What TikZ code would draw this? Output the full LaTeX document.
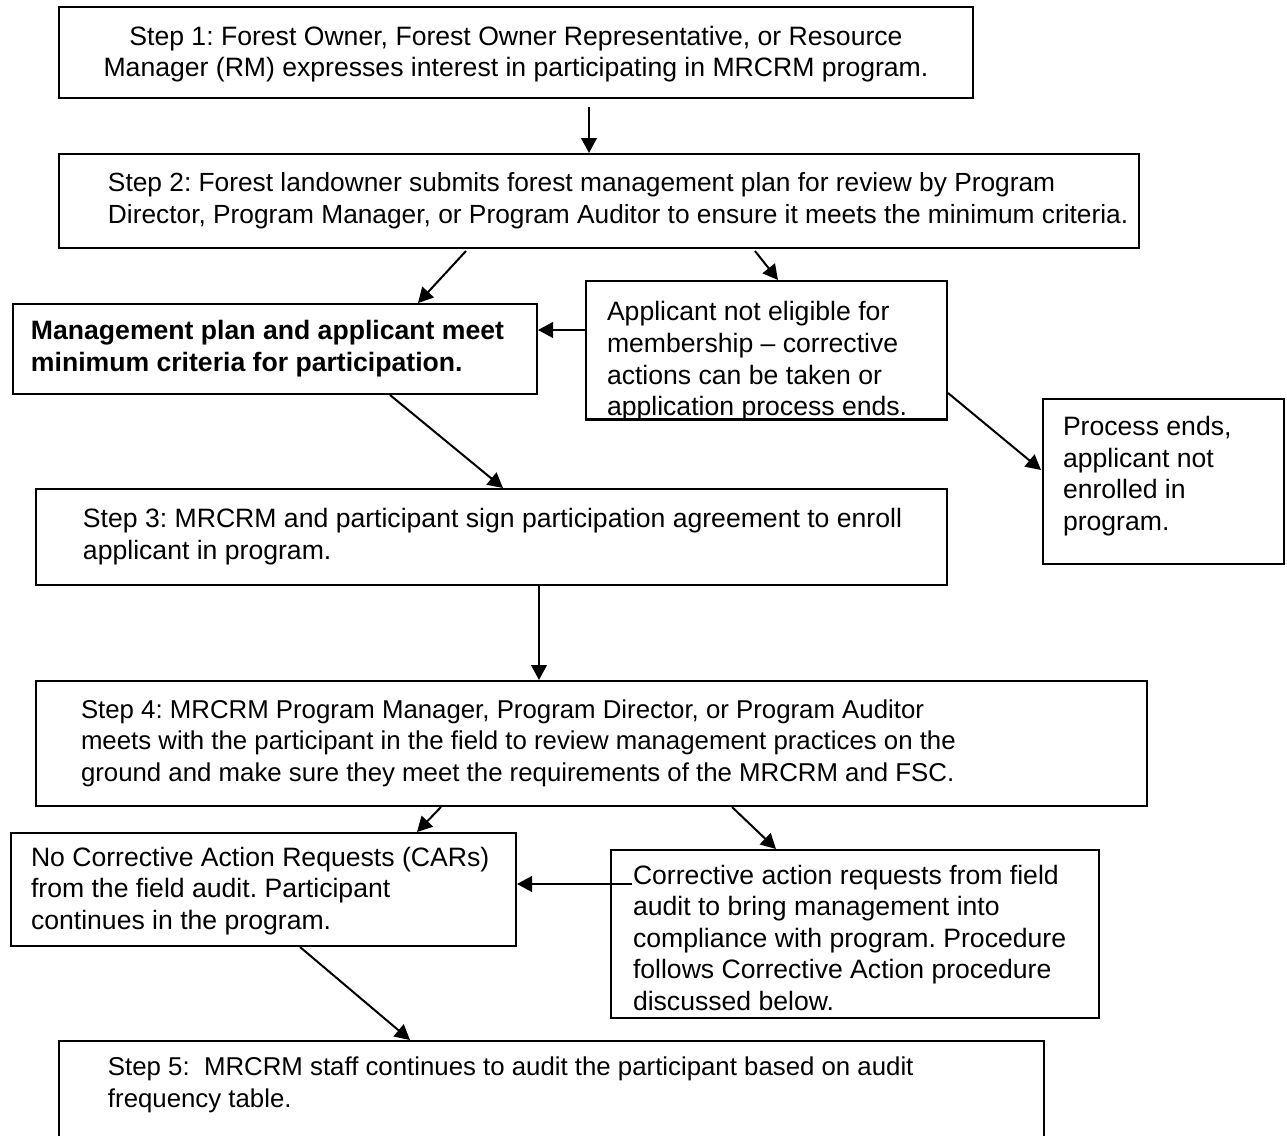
\documentclass[tikz,border=0pt]{standalone}
\usepackage{fontspec}
\setmainfont{Liberation Sans}
\usetikzlibrary{arrows.meta,calc}
\tikzset{
  boxnode/.style={draw, line width=1pt, inner sep=0pt, anchor=north west,
    font=\fontsize{13.3}{15.8}\selectfont\frenchspacing},
  narrowtext/.style={font=\fontsize{12.9}{15.8}\selectfont\frenchspacing},
  slimtext/.style={font=\fontsize{13.15}{15.8}\selectfont\frenchspacing},
  arr/.style={line width=1pt, -{Triangle[length=7.5pt,width=7.8pt]}}
}
% #1 box width, #2 left inset, #3 downward shift, #4 lines
\newcommand{\bxt}[4]{\raisebox{-#3}[\height][\depth]{\makebox[#1][l]{\hspace{#2}\begin{tabular}{@{}l@{}}#4\end{tabular}}}}
\newcommand{\bxc}[3]{\raisebox{-#2}[\height][\depth]{\makebox[#1][c]{\begin{tabular}{@{}c@{}}#3\end{tabular}}}}
\begin{document}
\begin{tikzpicture}[x=0.5pt,y=-0.5pt]
\useasboundingbox (0,0) rectangle (1287,1136);
\fill[white] (0,0) rectangle (1287,1136);
\clip (0,0) rectangle (1287,1136);

\node[boxnode, minimum height=45.5pt] (b1) at (58,6)
  {\bxc{457pt}{1pt}{Step 1: Forest Owner, Forest Owner Representative, or Resource\\Manager (RM) expresses interest in participating in MRCRM program.}};

\node[boxnode, slimtext, minimum height=47pt] (b2) at (58,153)
  {\bxt{540pt}{24.5pt}{0pt}{Step 2: Forest landowner submits forest management plan for review by Program\\Director, Program Manager, or Program Auditor to ensure it meets the minimum criteria.}};

\node[boxnode, minimum height=45pt] (mg) at (12,303)
  {\bxt{262pt}{9pt}{0pt}{\bfseries Management plan and applicant meet\\\bfseries minimum criteria for participation.}};

\begin{scope}
\clip (580,275) rectangle (952,418);
\node[boxnode, minimum height=69pt] (ap) at (585,280)
  {\bxt{180.5pt}{10.5pt}{6pt}{Applicant not eligible for\\membership -- corrective\\actions can be taken or\\application process ends.}};
\end{scope}
\draw[line width=1pt] (ap.south west) -- (ap.south east);

\node[boxnode, minimum height=82.5pt] (pe) at (1042,398)
  {\bxt{120.5pt}{10pt}{-2.5pt}{Process ends,\\applicant not\\enrolled in\\program.}};

\node[boxnode, minimum height=48pt] (b3) at (35,488)
  {\bxt{455.5pt}{23.5pt}{0pt}{Step 3: MRCRM and participant sign participation agreement to enroll\\applicant in program.}};

\node[boxnode, narrowtext, minimum height=62.5pt] (b4) at (35,680)
  {\bxt{555.5pt}{22.5pt}{0pt}{Step 4: MRCRM Program Manager, Program Director, or Program Auditor\\meets with the participant in the field to review management practices on the\\ground and make sure they meet the requirements of the MRCRM and FSC.}};

\node[boxnode, minimum height=56.5pt] (nc) at (10,832)
  {\bxt{252.5pt}{10pt}{1pt}{No Corrective Action Requests (CARs)\\from the field audit. Participant\\continues in the program.}};

\node[boxnode, minimum height=84pt] (ca) at (610,849)
  {\bxt{244pt}{11pt}{3.5pt}{Corrective action requests from field\\audit to bring management into\\compliance with program. Procedure\\follows Corrective Action procedure\\discussed below.}};

\node[boxnode, narrowtext, minimum height=60pt] (b5) at (58,1040)
  {\bxt{492.5pt}{24.5pt}{0pt}{Step 5:\ \ MRCRM staff continues to audit the participant based on audit\\frequency table.\\\mbox{}}};

% connectors
\draw[arr] ($(b1.south west)+(531,8)$) -- ($(b2.north west)+(531,0)$);
\draw[arr] ($(b2.south west)+(408,2)$) -- ($(mg.north west)+(406,0)$);
\draw[arr] ($(b2.south west)+(697,2)$) -- ($(ap.north west)+(193,0)$);
\draw[arr] ($(ap.north west)+(0,50)$) -- ($(mg.north east)+(0,27)$);
\draw[arr] ($(ap.north east)+(0,113)$) -- ($(pe.north west)+(-1,72)$);
\draw[arr] ($(mg.south west)+(378,0)$) -- ($(b3.north west)+(468,0)$);
\draw[arr] ($(b3.south west)+(504,0)$) -- ($(b4.north west)+(504,0)$);
\draw[arr] ($(b4.south west)+(406,0)$) -- ($(nc.north west)+(407,0)$);
\draw[arr] ($(b4.south west)+(697,0)$) -- ($(ca.north west)+(166,0)$);
\draw[arr] ($(ca.north west)+(22,35)$) -- ($(nc.north east)+(0,52)$);
\draw[arr] ($(nc.south west)+(290,0)$) -- ($(b5.north west)+(352,0)$);
\end{tikzpicture}
\end{document}
